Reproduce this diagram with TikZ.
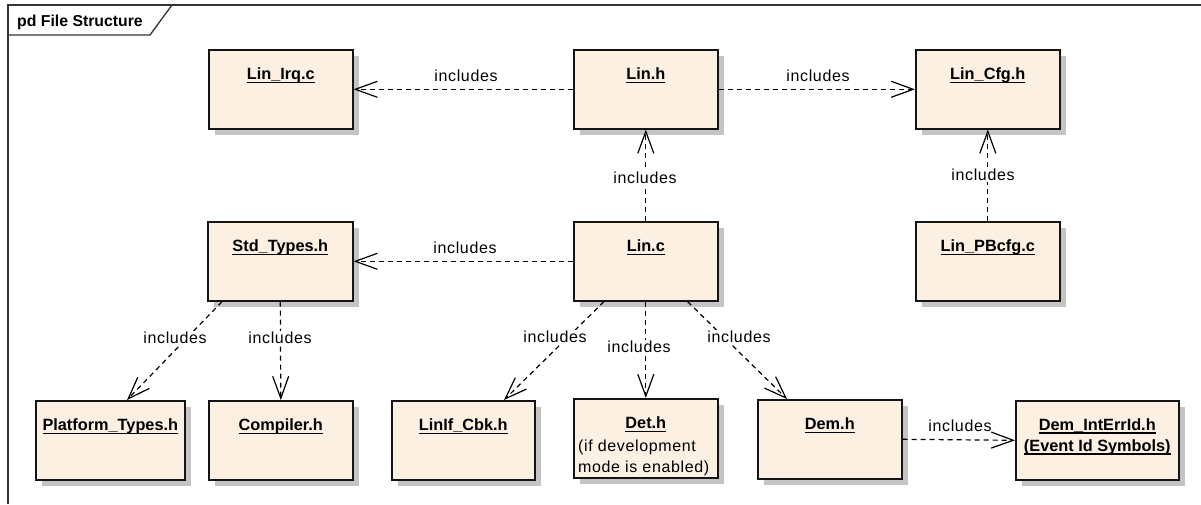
\documentclass[tikz,border=0pt]{standalone}
\usepackage{fontspec}
\setmainfont{Liberation Sans}
\newfontfamily\spacedfont[LetterSpace=4]{Liberation Sans}
\usetikzlibrary{arrows.meta,shadows}
\definecolor{notefill}{RGB}{251,240,226}
\definecolor{shadowgray}{RGB}{196,196,196}
\definecolor{edgecol}{RGB}{20,20,20}
% underlined file name with a fixed rule below the baseline
\newcommand{\fname}[1]{\setbox0=\hbox{#1}\rlap{\rule[-3.6pt]{\wd0}{1.3pt}}\box0}

\begin{document}
\begin{tikzpicture}[x=1pt,y=-1pt,
  filebox/.style={draw=edgecol, line width=1.6pt, fill=notefill,
    minimum height=79pt, inner sep=0pt, anchor=north west,
    drop shadow={shadow xshift=6pt, shadow yshift=-6pt, fill=shadowgray, opacity=1}},
  ftitle/.style={font=\fontsize{16.3}{20}\selectfont\bfseries, inner sep=0pt, anchor=base},
  fnote/.style={font=\spacedfont\fontsize{16}{20}\selectfont, inner sep=0pt, anchor=base west},
  lbl/.style={font=\spacedfont\fontsize{16}{20}\selectfont, fill=white, inner sep=1.5pt},
  dep/.style={draw=black, line width=1.2pt, dash pattern=on 5pt off 4pt,
    -{Straight Barb[length=22pt,width=16pt,line width=1.2pt]}},
  framecol/.style={draw=black!80, line width=1.3pt}]

\useasboundingbox (0,0) rectangle (1201,504);

% diagram frame with its name tab
\draw[framecol] (8,504) -- (8,5) -- (1201,5);
\draw[framecol] (8,35) -- (150,35) -- (172,5);
\node[font=\fontsize{15.8}{19}\selectfont\bfseries, inner sep=0pt, anchor=base west] (frametitle) at (17,26) {pd File Structure};

% files
\node[filebox, minimum width=144pt] (irq) at (208,49) {};
\node[filebox, minimum width=144pt] (linh) at (573,49) {};
\node[filebox, minimum width=144pt] (cfg) at (915,49) {};
\node[filebox, minimum width=145pt] (std) at (207,221) {};
\node[filebox, minimum width=144pt] (linc) at (573,221) {};
\node[filebox, minimum width=144pt] (pb) at (915,221) {};
\node[filebox, minimum width=149pt] (plat) at (35,400) {};
\node[filebox, minimum width=144pt] (comp) at (208,400) {};
\node[filebox, minimum width=143pt] (linif) at (391,400) {};
\node[filebox, minimum width=144pt] (det) at (573,398) {};
\node[filebox, minimum width=144pt] (dem) at (757,399) {};
\node[filebox, minimum width=163pt] (demint) at (1015,400) {};

% file names
\node[ftitle] (irq-t) at ([yshift=-30.5pt]irq.north) {\fname{Lin\_Irq.c}};
\node[ftitle] (linh-t) at ([yshift=-30.5pt]linh.north) {\fname{Lin.h}};
\node[ftitle] (cfg-t) at ([yshift=-30.5pt]cfg.north) {\fname{Lin\_Cfg.h}};
\node[ftitle] (std-t) at ([yshift=-30.5pt]std.north) {\fname{Std\_Types.h}};
\node[ftitle] (linc-t) at ([yshift=-30.5pt]linc.north) {\fname{Lin.c}};
\node[ftitle] (pb-t) at ([yshift=-30.5pt]pb.north) {\fname{Lin\_PBcfg.c}};
\node[ftitle] (plat-t) at ([yshift=-30.5pt]plat.north) {\fname{Platform\_Types.h}};
\node[ftitle] (comp-t) at ([yshift=-30.5pt]comp.north) {\fname{Compiler.h}};
\node[ftitle] (linif-t) at ([yshift=-30.5pt]linif.north) {\fname{LinIf\_Cbk.h}};
\node[ftitle] (det-t) at ([yshift=-30.5pt]det.north) {\fname{Det.h}};
\node[fnote] (det-n1) at ([xshift=5pt,yshift=-53pt]det.north west) {(if development};
\node[fnote] (det-n2) at ([xshift=5pt,yshift=-74pt]det.north west) {mode is enabled)};
\node[ftitle] (dem-t) at ([yshift=-30.5pt]dem.north) {\fname{Dem.h}};
\node[ftitle] (demint-t1) at ([yshift=-30pt]demint.north) {\fname{Dem\_IntErrId.h}};
\node[ftitle] (demint-t2) at ([yshift=-51pt]demint.north) {\fname{(Event Id Symbols)}};

% include dependencies
\draw[dep] (linh.west) -- (irq.east);
\draw[dep] (linh.east) -- (cfg.west);
\draw[dep] (linc.north) -- (linh.south);
\draw[dep] (pb.north) -- (cfg.south);
\draw[dep] (linc.west) -- (std.east);
\draw[dep] ([xshift=15pt]std.south west) -- ([xshift=92pt]plat.north west);
\draw[dep] (std.south) -- (comp.north);
\draw[dep] ([xshift=31pt]linc.south west) -- ([xshift=113pt]linif.north west);
\draw[dep] (linc.south) -- (det.north);
\draw[dep] ([xshift=-31pt]linc.south east) -- ([xshift=30pt]dem.north west);
\draw[dep] (dem.east) -- (demint.west);

% dependency labels
\node[lbl] (l-irq) at (466,76) {includes};
\node[lbl] (l-cfg) at (818,76) {includes};
\node[lbl] (l-linh) at (645,178) {includes};
\node[lbl] (l-pb) at (983,175) {includes};
\node[lbl] (l-std) at (465,248) {includes};
\node[lbl] (l-plat) at (175,338) {includes};
\node[lbl] (l-comp) at (280,338) {includes};
\node[lbl] (l-linif) at (555,337) {includes};
\node[lbl] (l-det) at (639,347) {includes};
\node[lbl] (l-dem) at (739,337) {includes};
\node[lbl, fill=none] (l-demint) at (960,426) {includes};
\end{tikzpicture}
\end{document}
